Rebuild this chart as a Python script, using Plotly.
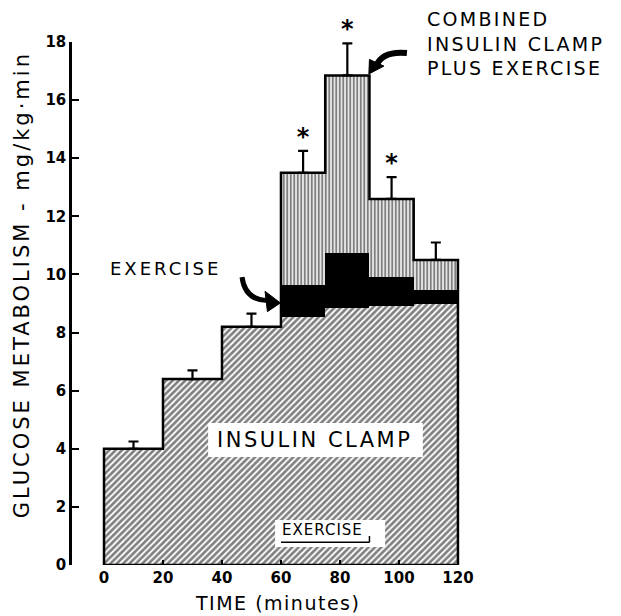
import plotly.graph_objects as go

# ---- data ----
time_edges = [0, 20, 40, 60, 75, 90, 105, 120]
insulin_clamp = [4.0, 6.4, 8.2, 8.55, 8.85, 8.9, 9.0]          # hatched base, each period
insulin_clamp_sem = [0.25, 0.3, 0.45]                         # error bars on 0-60 min
exercise_top = [9.65, 10.75, 9.9, 9.45]                       # black band top, 60-120 min
combined = [13.5, 16.85, 12.6, 10.5]                          # insulin clamp plus exercise
combined_sem = [0.75, 1.1, 0.75, 0.6]
significant = [True, True, True, False]
exercise_period = [60, 90]
x_ticks = [0, 20, 40, 60, 80, 100, 120]
y_ticks = [0, 2, 4, 6, 8, 10, 12, 14, 16, 18]

FONT = "DejaVu Sans"

centers = [(a + b) / 2 for a, b in zip(time_edges[:-1], time_edges[1:])]
widths = [b - a for a, b in zip(time_edges[:-1], time_edges[1:])]
n_pre = len(insulin_clamp_sem)
ex_centers = centers[n_pre:]
ex_widths = widths[n_pre:]
ex_base = insulin_clamp[n_pre:]

fig = go.Figure()

# insulin clamp (diagonal hatch)
fig.add_trace(go.Bar(
    x=centers, y=insulin_clamp, width=widths, base=[0] * len(centers),
    marker=dict(color="white", line=dict(width=0),
                pattern=dict(shape="/", size=4.5, solidity=0.6, fgcolor="black", bgcolor="white")),
    showlegend=False, hoverinfo="skip"))

# exercise alone (solid black)
fig.add_trace(go.Bar(
    x=ex_centers, y=[t - b for t, b in zip(exercise_top, ex_base)], width=ex_widths, base=ex_base,
    marker=dict(color="black", line=dict(width=0)), showlegend=False, hoverinfo="skip"))

# combined insulin clamp plus exercise (vertical hatch)
fig.add_trace(go.Bar(
    x=ex_centers, y=[c - t for c, t in zip(combined, exercise_top)], width=ex_widths, base=exercise_top,
    marker=dict(color="white", line=dict(width=0),
                pattern=dict(shape="|", size=3.5, solidity=0.6, fgcolor="black", bgcolor="white")),
    showlegend=False, hoverinfo="skip"))

# outer outline built from the data
tops = insulin_clamp[:n_pre] + combined
ox, oy = [time_edges[0]], [0]
for i, h in enumerate(tops):
    ox += [time_edges[i], time_edges[i + 1]]
    oy += [h, h]
ox += [time_edges[-1], time_edges[0]]
oy += [0, 0]
fig.add_trace(go.Scatter(x=ox, y=oy, mode="lines", line=dict(color="black", width=2.5),
                         cliponaxis=False, showlegend=False, hoverinfo="skip"))

# error bars (upper only)
sems = insulin_clamp_sem + combined_sem
fig.add_trace(go.Scatter(
    x=centers, y=tops, mode="markers", marker=dict(size=1, color="rgba(0,0,0,0)"),
    error_y=dict(type="data", symmetric=False, array=sems, arrayminus=[0] * len(sems),
                 color="black", thickness=2.2, width=5),
    cliponaxis=False, showlegend=False, hoverinfo="skip"))

# asterisks
sx = [c for c, s in zip(ex_centers, significant) if s]
sy = [c + e for c, e, s in zip(combined, combined_sem, significant) if s]
fig.add_trace(go.Scatter(x=sx, y=sy, mode="text", text=["*"] * len(sx), textposition="top center",
                         textfont=dict(family=FONT, size=24, color="black", weight="bold"),
                         cliponaxis=False, showlegend=False, hoverinfo="skip"))

shapes = [
    # white box behind "INSULIN CLAMP"
    dict(type="rect", xref="x", yref="y", x0=35.3, x1=108.1, y0=3.72, y1=4.89,
         fillcolor="white", line=dict(width=0), layer="above"),
    # white box behind "EXERCISE"
    dict(type="rect", xref="x", yref="y", x0=58.0, x1=95.3, y0=0.62, y1=1.55,
         fillcolor="white", line=dict(width=0), layer="above"),
    # exercise period underline
    dict(type="line", xref="x", yref="y", x0=exercise_period[0], x1=exercise_period[1], y0=0.78, y1=0.78,
         line=dict(color="black", width=1.5), layer="above"),
    dict(type="line", xref="x", yref="y", x0=exercise_period[1], x1=exercise_period[1], y0=0.78, y1=1.0,
         line=dict(color="black", width=1.5), layer="above"),
    # curved arrow from "EXERCISE"
    dict(type="path", xref="x", yref="y", path="M 46.8 9.91 Q 47.8 9.12 55.5 9.1",
         line=dict(color="black", width=5), layer="above"),
    dict(type="path", xref="x", yref="y", path="M 59.8 9.02 L 54.6 9.42 L 55.4 8.72 Z",
         fillcolor="black", line=dict(color="black", width=1), layer="above"),
    # curved arrow from "COMBINED ..."
    dict(type="path", xref="x", yref="y", path="M 102.7 17.62 Q 94.5 17.7 92.4 17.2",
         line=dict(color="black", width=6), layer="above"),
    dict(type="path", xref="x", yref="y", path="M 89.8 16.9 L 90.0 17.4 L 94.9 17.17 Z",
         fillcolor="black", line=dict(color="black", width=1), layer="above"),
]

annotations = [
    dict(x=71.5, y=4.3, xref="x", yref="y", showarrow=False,
         text='<span style="letter-spacing:2.5px">INSULIN CLAMP</span>',
         font=dict(family=FONT, size=21, color="black")),
    dict(x=74.2, y=1.2, xref="x", yref="y", showarrow=False,
         text='<span style="letter-spacing:1px">EXERCISE</span>',
         font=dict(family=FONT, size=15, color="black")),
    dict(x=21.0, y=10.19, xref="x", yref="y", showarrow=False,
         text='<span style="letter-spacing:3px">EXERCISE</span>',
         font=dict(family=FONT, size=18, color="black")),
    dict(x=0.667, y=1.068, xref="paper", yref="paper", showarrow=False, xanchor="left", yanchor="top",
         align="left",
         text='<span style="letter-spacing:2.3px">COMBINED<br>INSULIN CLAMP<br>PLUS EXERCISE</span>',
         font=dict(family=FONT, size=19, color="black")),
    dict(x=-0.0945, y=0.535, xref="paper", yref="paper", showarrow=False, textangle=-90,
         xanchor="center", yanchor="middle",
         text='<span style="letter-spacing:3px">GLUCOSE METABOLISM - mg/kg·min</span>',
         font=dict(family=FONT, size=21, color="black")),
    dict(x=0.389, y=-0.073, xref="paper", yref="paper", showarrow=False,
         xanchor="center", yanchor="middle",
         text='<span style="letter-spacing:1.5px">TIME (minutes)</span>',
         font=dict(family=FONT, size=19, color="black")),
]

fig.update_layout(
    width=613, height=608,
    margin=dict(l=64, r=20, t=34, b=51),
    paper_bgcolor="white", plot_bgcolor="white",
    barmode="overlay", bargap=0,
    shapes=shapes, annotations=annotations,
    xaxis=dict(range=[-10.85, 168.5], tickvals=x_ticks, ticks="inside", ticklen=5, tickwidth=2,
               tickcolor="black", showline=False, showgrid=False, zeroline=False,
               ticklabelstandoff=2,
               tickfont=dict(family=FONT, size=15, color="black", weight="bold")),
    yaxis=dict(range=[0, 18], tickvals=y_ticks, ticks="inside", ticklen=7, tickwidth=2,
               tickcolor="black", showline=True, linewidth=2.5, linecolor="black",
               showgrid=False, zeroline=False,
               tickfont=dict(family=FONT, size=15, color="black", weight="bold")),
)

fig.write_html("out.html")
